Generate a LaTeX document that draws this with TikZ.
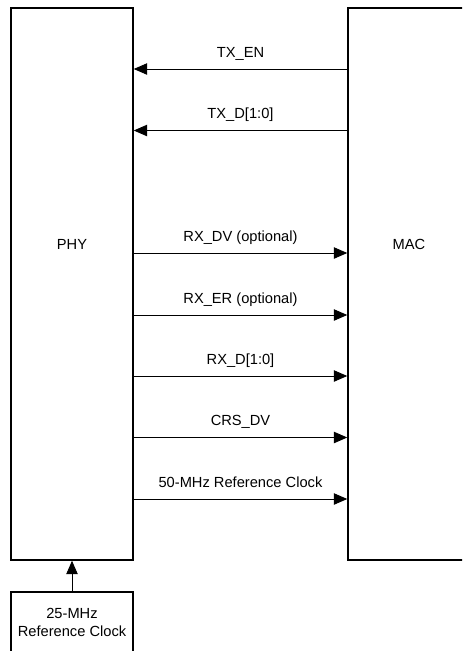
\documentclass[tikz,border=0pt]{standalone}
\usepackage{fontspec}
\setmainfont{Liberation Sans}
\usetikzlibrary{arrows.meta}

\begin{document}
\begin{tikzpicture}[x=0.75pt,y=-0.75pt,font=\fontsize{11}{13.5}\selectfont,
    block/.style={draw,line width=1.1pt,minimum width=91.5pt,inner sep=0pt},
    signal/.style={line width=0.7pt,-{Triangle[length=10pt,width=8.5pt]}},
    sig label/.style={midway,anchor=base,yshift=8.8pt,inner sep=0pt}]
    \useasboundingbox (0,0) rectangle (462,651);
    \clip (0,0) rectangle (462,651);

    \node[block,minimum height=414pt] (phy) at (72,284) {};
    \node[block,minimum height=414pt] (mac) at (409,284) {};
    \node[block,minimum height=72pt] (clk) at (72,640) {};

    \node (phytext) at (72,244) {PHY};
    \node (mactext) at (409,244) {MAC};
    \node[align=center] (clktext) at (72,622) {25-MHz\\Reference Clock};

    \draw[signal] (mac.west |- 0,69) -- (phy.east |- 0,69) node[sig label] {TX\_EN};
    \draw[signal] (mac.west |- 0,130.5) -- (phy.east |- 0,130.5) node[sig label] {TX\_D[1:0]};
    \draw[signal] (phy.east |- 0,253) -- (mac.west |- 0,253) node[sig label] {RX\_DV (optional)};
    \draw[signal] (phy.east |- 0,315) -- (mac.west |- 0,315) node[sig label] {RX\_ER (optional)};
    \draw[signal] (phy.east |- 0,376) -- (mac.west |- 0,376) node[sig label] {RX\_D[1:0]};
    \draw[signal] (phy.east |- 0,437.5) -- (mac.west |- 0,437.5) node[sig label] {CRS\_DV};
    \draw[signal] (phy.east |- 0,499) -- (mac.west |- 0,499) node[sig label] {50-MHz Reference Clock};

    \draw[signal] (clk.north) -- (phy.south);
\end{tikzpicture}
\end{document}
